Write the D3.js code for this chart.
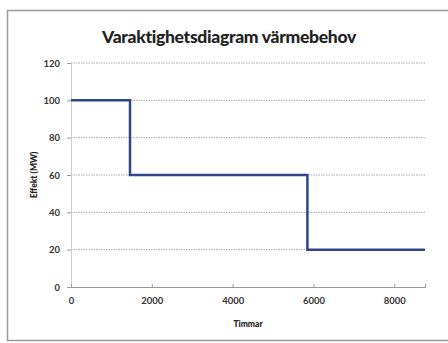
<!DOCTYPE html>
<html>
<head>
<meta charset="utf-8">
<script src="https://cdn.jsdelivr.net/npm/d3@7"></script>
<style>
  body { margin: 0; background: #fff; }
  text { font-family: Lato, "Open Sans", sans-serif; fill: #222; }
</style>
</head>
<body>
<div id="chart"></div>
<script>
// step curve: hours -> effect (MW)
var hours = [0, 1460, 1460, 5850, 5850, 8760];
var effect = [100, 100, 60, 60, 20, 20];
var yTicks = [0, 20, 40, 60, 80, 100, 120];
var xTicks = [0, 2000, 4000, 6000, 8000];

var W = 448, H = 343;
var margin = {top: 63, right: 23, bottom: 56, left: 71};
var width = W - margin.left - margin.right;
var height = H - margin.top - margin.bottom;

var svg = d3.select("#chart").append("svg")
  .attr("width", W).attr("height", H);

// chart frame
svg.append("rect")
  .attr("x", 7.5).attr("y", 10.5)
  .attr("width", 460).attr("height", 330)
  .attr("fill", "#fff").attr("stroke", "#9a9a9a").attr("stroke-width", 1.5);

svg.append("text")
  .attr("x", 229).attr("y", 43)
  .attr("text-anchor", "middle")
  .style("font-size", "17.5px").style("font-weight", "900")
  .style("letter-spacing", "-0.3px")
  .text("Varaktighetsdiagram värmebehov");

var g = svg.append("g")
  .attr("transform", "translate(" + margin.left + "," + margin.top + ")");

var x = d3.scaleLinear().domain([0, 8760]).range([0, width]);
var y = d3.scaleLinear().domain([0, 120]).range([height, 0]);

// gridlines
g.selectAll(".grid")
  .data(yTicks.filter(d => d > 0))
  .enter().append("line")
  .attr("x1", 0).attr("x2", width)
  .attr("y1", d => y(d)).attr("y2", d => y(d))
  .attr("stroke", "#aaa").attr("stroke-width", 1)
  .attr("stroke-dasharray", "1.5,1");

// y axis
var yAxis = g.append("g")
  .call(d3.axisLeft(y).tickValues(yTicks).tickSize(4).tickPadding(7));
yAxis.select(".domain").attr("stroke", "#ccc");
yAxis.selectAll(".tick line").attr("stroke", "#999");
yAxis.selectAll("text").style("font-size", "9.5px").style("font-weight", "bold").style("fill", "#333");

// x axis
var xAxis = g.append("g")
  .attr("transform", "translate(0," + height + ")")
  .call(d3.axisBottom(x).tickValues(xTicks).tickFormat(d3.format("d")).tickSize(-3).tickPadding(10));
xAxis.select(".domain").attr("stroke", "#999");
xAxis.selectAll(".tick line").attr("stroke", "#999");
xAxis.selectAll("text").style("font-size", "9.5px").style("font-weight", "bold").style("fill", "#333");

// axis titles
svg.append("text")
  .attr("x", margin.left + width / 2).attr("y", 327)
  .attr("text-anchor", "middle")
  .style("font-size", "8.5px").style("font-weight", "900")
  .text("Timmar");

svg.append("text")
  .attr("transform", "translate(37," + (margin.top + height / 2) + ") rotate(-90)")
  .attr("text-anchor", "middle")
  .style("font-size", "8.5px").style("font-weight", "900")
  .text("Effekt (MW)");

// line
var line = d3.line()
  .x((d, i) => x(hours[i]))
  .y(d => y(d));

g.append("path")
  .datum(effect)
  .attr("fill", "none")
  .attr("stroke", "#2e4788")
  .attr("stroke-width", 2.5)
  .attr("d", line);
</script>
</body>
</html>
